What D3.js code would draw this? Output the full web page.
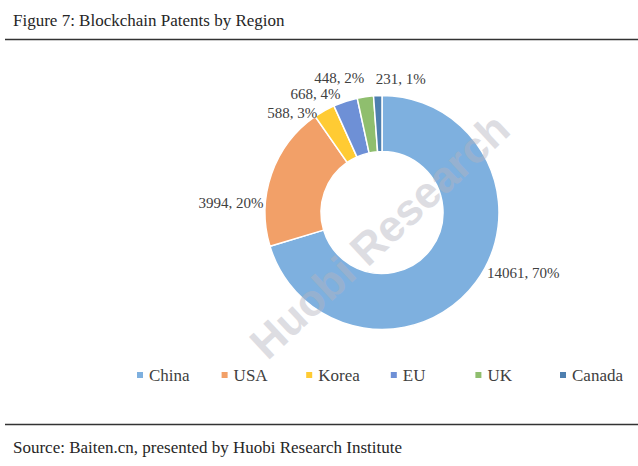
<!DOCTYPE html>
<html>
<head>
<meta charset="utf-8">
<script src="https://cdn.jsdelivr.net/npm/d3@7/dist/d3.min.js"></script>
<style>
  html, body { margin: 0; padding: 0; background: #fff; }
  svg { display: block; }
</style>
</head>
<body>
<svg id="chart" width="638" height="466"></svg>
<script>
// ---- data ----
const categories = ["China", "USA", "Korea", "EU", "UK", "Canada"];
const patents = [14061, 3994, 588, 668, 448, 231];
const percentLabels = ["70%", "20%", "3%", "4%", "2%", "1%"];
const colors = ["#7EB0DF", "#F2A068", "#FFCB33", "#6E90D6", "#8FBE6E", "#4E7FAF"];

const titleText = "Figure 7: Blockchain Patents by Region";
const sourceText = "Source: Baiten.cn, presented by Huobi Research Institute";

// ---- layout ----
const W = 638, H = 466;
const cx = 382, cy = 212.5, R = 117, r0 = 61;
const serif = "'Liberation Serif', 'Times New Roman', serif";
const textColor = "#404040";

// label layout: [offsetX, offsetY, anchor] relative to outer-arc midpoint
const labelLayout = [
  [11, -10, "start"],
  [-8, 29, "end"],
  [-7, 2, "end"],
  [-30, -8, "middle"],
  [-26, -19, "middle"],
  [23, -17, "middle"]
];

const svg = d3.select("#chart");

// title
svg.append("text")
  .attr("x", 13).attr("y", 26)
  .style("font-family", serif).style("font-size", "17px")
  .attr("fill", "#262626")
  .text(titleText);

svg.append("line")
  .attr("x1", 5).attr("x2", W).attr("y1", 39.5).attr("y2", 39.5)
  .attr("stroke", "#333").attr("stroke-width", 1.3);

svg.append("line")
  .attr("x1", 5).attr("x2", W).attr("y1", 424.5).attr("y2", 424.5)
  .attr("stroke", "#333").attr("stroke-width", 1.3);

svg.append("text")
  .attr("x", 13).attr("y", 453)
  .style("font-family", serif).style("font-size", "17px")
  .attr("fill", "#262626")
  .text(sourceText);

// pie
const data = categories.map((c, i) => ({ name: c, value: patents[i], pct: percentLabels[i], color: colors[i], i }));
const pie = d3.pie().value(d => d.value).sort(null);
const arcs = pie(data);
const arc = d3.arc().innerRadius(r0).outerRadius(R);
const outerArc = d3.arc().innerRadius(R).outerRadius(R);

const g = svg.append("g").attr("transform", `translate(${cx},${cy})`);
g.selectAll("path.slice")
  .data(arcs)
  .join("path")
  .attr("class", "slice")
  .attr("d", arc)
  .attr("fill", d => d.data.color)
  .attr("stroke", "#fff")
  .attr("stroke-width", 1.5);

g.selectAll("text.lbl")
  .data(arcs)
  .join("text")
  .attr("class", "lbl")
  .each(function(d) {
    const [x, y] = outerArc.centroid(d);
    const [ox, oy, anchor] = labelLayout[d.data.i];
    d3.select(this)
      .attr("x", x + ox)
      .attr("y", y + oy)
      .attr("text-anchor", anchor);
  })
  .attr("dy", "0.35em")
  .style("font-family", serif).style("font-size", "15px")
  .attr("fill", textColor)
  .text(d => `${d.data.value}, ${d.data.pct}`);

// watermark (faint, over the chart)
svg.append("text")
  .attr("pointer-events", "none")
  .attr("transform", `translate(${cx},${cy + 26}) rotate(-43)`)
  .attr("text-anchor", "middle")
  .attr("dominant-baseline", "middle")
  .style("font-family", "'Liberation Sans', Arial, sans-serif")
  .style("font-weight", "bold")
  .style("font-size", "44px")
  .attr("fill", "#b4b4c0")
  .attr("opacity", 0.45)
  .text("Huobi Research");

// legend
const legendX = d3.scaleBand().domain(categories).range([137, 137 + 6 * 84.6]);
const lg = svg.append("g");
const items = lg.selectAll("g.item").data(data).join("g")
  .attr("class", "item")
  .attr("transform", d => `translate(${legendX(d.name)},375)`);
items.append("rect")
  .attr("x", 0).attr("y", -3).attr("width", 6).attr("height", 6)
  .attr("fill", d => d.color);
items.append("text")
  .attr("x", 12).attr("y", 0).attr("dy", "0.35em")
  .style("font-family", serif).style("font-size", "17px")
  .attr("fill", textColor)
  .text(d => d.name);
</script>
</body>
</html>
